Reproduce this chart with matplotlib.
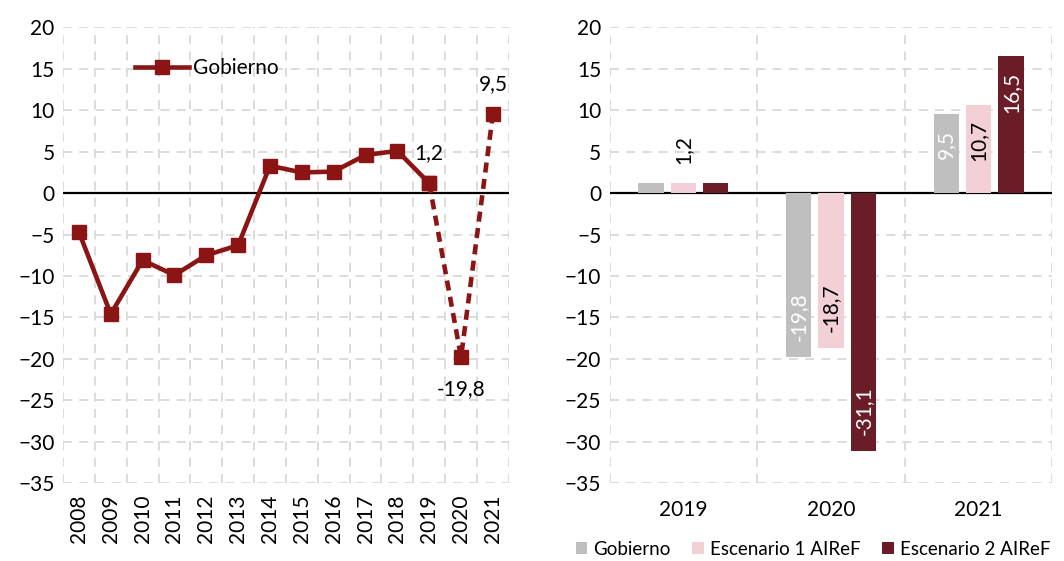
import matplotlib
matplotlib.use("Agg")
import matplotlib.pyplot as plt
import numpy as np

plt.rcParams['font.family'] = ['Lato', 'DejaVu Sans']

# left panel: Gobierno series
years = ['2008', '2009', '2010', '2011', '2012', '2013', '2014',
         '2015', '2016', '2017', '2018', '2019', '2020', '2021']
gobierno = [-4.7, -14.6, -8.1, -9.9, -7.5, -6.3, 3.3,
            2.5, 2.6, 4.6, 5.1, 1.2, -19.8, 9.5]
labelled_years = {'2019': '1,2', '2020': '-19,8', '2021': '9,5'}

# right panel: scenarios
bar_years = ['2019', '2020', '2021']
esc_gob = [1.2, -19.8, 9.5]
esc_1 = [1.2, -18.7, 10.7]
esc_2 = [1.2, -31.1, 16.5]
bar_labels = [[None, '-19,8', '9,5'],
              ['1,2', '-18,7', '10,7'],
              [None, '-31,1', '16,5']]
series_names = ['Gobierno', 'Escenario 1 AIReF', 'Escenario 2 AIReF']

line_col = '#8B1515'
bar_cols = ['#BFBFBF', '#F2D0D5', '#6B1D27']
label_cols = ['white', 'black', 'white']
grid_col = '#D9D9D9'
fs = 15

fig = plt.figure(figsize=(10.64, 5.61), dpi=100)
ax1 = fig.add_axes([0.0592, 0.139, 0.419, 0.812])
ax2 = fig.add_axes([0.573, 0.139, 0.416, 0.812])

yticks = np.arange(-35, 21, 5)


def style(ax, n):
    ax.set_ylim(-35, 20)
    ax.set_xlim(-0.5, n - 0.5)
    ax.set_yticks(yticks)
    for y in yticks:
        ax.axhline(y, color=grid_col, lw=1.3, ls=(0, (5, 4)), zorder=0)
    for x in np.arange(-0.5, n, 1):
        ax.axvline(x, color=grid_col, lw=1.3, ls=(0, (5, 4)), zorder=0)
    ax.axhline(0, color='black', lw=1.6, zorder=1)
    for s in ax.spines.values():
        s.set_visible(False)
    ax.tick_params(length=0, labelsize=fs, pad=6)


# ---- left chart
style(ax1, len(years))
x = np.arange(len(years))
g = np.array(gobierno)
ax1.plot(x[:12], g[:12], color=line_col, lw=3.3, marker='s', ms=10,
         zorder=3, label='Gobierno')
ax1.plot(x[11:], g[11:], color=line_col, lw=3.3, ls=(0, (2.2, 1.4)),
         zorder=3)
ax1.plot(x[11:], g[11:], color=line_col, lw=0, marker='s', ms=10, zorder=4)
ax1.set_xticks(x)
ax1.set_xticklabels(years, rotation=90)
ax1.tick_params(axis='x', pad=8)
for i, yr in enumerate(years):
    if yr in labelled_years:
        off = -23 if g[i] < 0 else 22
        ax1.annotate(labelled_years[yr], (i, g[i]), xytext=(0, off),
                     textcoords='offset points', ha='center', va='center',
                     fontsize=fs)
ax1.legend(loc='center left', bbox_to_anchor=(0.161, 0.911), frameon=False,
           fontsize=fs, handlelength=2.6, handletextpad=0.2,
           borderaxespad=0, borderpad=0)

# ---- right chart
style(ax2, len(bar_years))
xb = np.arange(len(bar_years))
w = 0.17
step = 0.22
for k, (vals, col) in enumerate(zip([esc_gob, esc_1, esc_2], bar_cols)):
    xs = xb + (k - 1) * step
    ax2.bar(xs, vals, width=w, color=col, zorder=2, label=series_names[k])
    for xi, v, lab in zip(xs, vals, bar_labels[k]):
        if lab is None:
            continue
        if abs(v) < 3:
            ax2.text(xi, v + 2.3, lab, rotation=90, ha='center', va='bottom',
                     fontsize=fs, color='black')
        elif v > 0:
            ax2.text(xi, v - 1.9, lab, rotation=90, ha='center', va='top',
                     fontsize=fs, color=label_cols[k])
        else:
            ax2.text(xi, v + 1.9, lab, rotation=90, ha='center', va='bottom',
                     fontsize=fs, color=label_cols[k])
ax2.set_xticks(xb)
ax2.set_xticklabels(bar_years)
ax2.tick_params(axis='x', pad=12)
ax2.legend(loc='center left', bbox_to_anchor=(-0.077, -0.145), ncol=3,
           frameon=False, fontsize=13.5, handlelength=0.6, handleheight=0.6,
           handletextpad=0.35, columnspacing=1.15, borderaxespad=0,
           borderpad=0)

fig.savefig('out.png', dpi=100)
